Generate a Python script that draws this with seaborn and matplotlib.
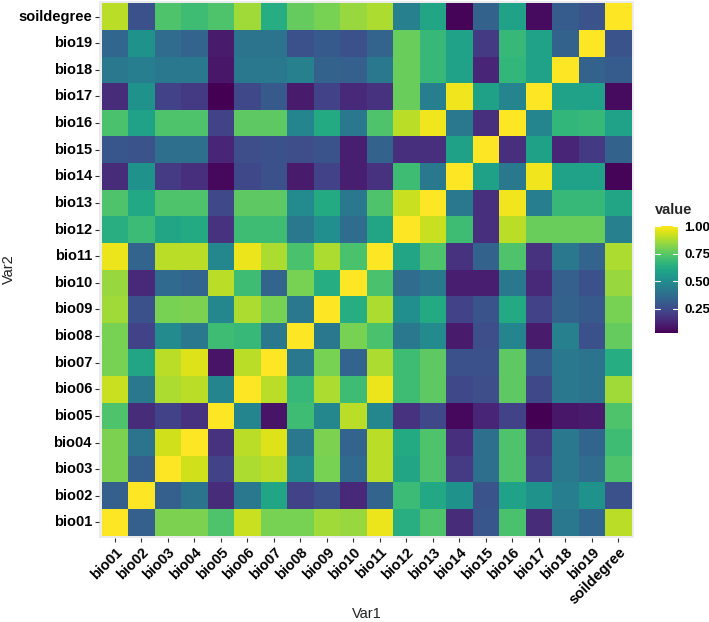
import numpy as np
import pandas as pd
import matplotlib
matplotlib.use('Agg')
import matplotlib.pyplot as plt
import seaborn as sns

labels = ['bio01', 'bio02', 'bio03', 'bio04', 'bio05', 'bio06', 'bio07', 'bio08', 'bio09', 'bio10',
          'bio11', 'bio12', 'bio13', 'bio14', 'bio15', 'bio16', 'bio17', 'bio18', 'bio19', 'soildegree']

# correlation values, one list per variable (same order as labels)
bio01 = [1.00, .32, .81, .81, .73, .92, .80, .80, .86, .85, .97, .64, .73, .15, .29, .72, .15, .42, .35, .90]
bio02 = [.32, 1.00, .32, .40, .15, .42, .60, .22, .27, .14, .34, .69, .61, .52, .28, .59, .52, .44, .52, .27]
bio03 = [.81, .32, 1.00, .93, .22, .88, .90, .49, .80, .36, .90, .60, .73, .20, .38, .73, .22, .42, .37, .73]
bio04 = [.81, .40, .93, 1.00, .17, .90, .95, .42, .81, .34, .90, .62, .73, .16, .38, .73, .19, .42, .34, .70]
bio05 = [.73, .15, .22, .17, 1.00, .47, .08, .70, .48, .90, .48, .17, .24, .05, .13, .22, .03, .09, .10, .73]
bio06 = [.92, .42, .88, .90, .47, 1.00, .90, .68, .88, .70, .97, .70, .76, .24, .26, .76, .24, .42, .40, .86]
bio07 = [.80, .60, .90, .95, .08, .90, 1.00, .42, .80, .34, .88, .70, .76, .27, .27, .76, .30, .42, .40, .63]
bio08 = [.80, .22, .49, .42, .70, .68, .42, 1.00, .42, .80, .72, .42, .49, .10, .26, .47, .10, .45, .27, .77]
bio09 = [.86, .27, .80, .81, .48, .88, .80, .42, 1.00, .63, .88, .51, .62, .22, .28, .62, .22, .33, .30, .80]
bio10 = [.85, .14, .36, .34, .90, .70, .34, .80, .63, 1.00, .72, .37, .42, .11, .11, .42, .14, .32, .27, .85]
bio11 = [.97, .34, .90, .90, .48, .97, .88, .72, .88, .72, 1.00, .60, .73, .17, .33, .73, .17, .42, .34, .88]
bio12 = [.64, .69, .60, .62, .17, .70, .70, .42, .51, .37, .60, 1.00, .92, .70, .16, .90, .78, .78, .78, .45]
bio13 = [.73, .61, .73, .73, .24, .76, .76, .49, .62, .42, .73, .92, 1.00, .42, .16, .98, .44, .68, .68, .60]
bio14 = [.15, .52, .20, .16, .05, .24, .27, .10, .22, .11, .17, .70, .42, 1.00, .58, .42, .98, .59, .59, .04]
bio15 = [.29, .28, .38, .38, .13, .26, .27, .26, .28, .11, .33, .16, .16, .58, 1.00, .16, .58, .13, .19, .33]
bio16 = [.72, .59, .73, .73, .22, .76, .76, .47, .62, .42, .73, .90, .98, .42, .16, 1.00, .47, .67, .68, .59]
bio17 = [.15, .52, .22, .19, .03, .24, .30, .10, .22, .14, .17, .78, .44, .98, .58, .47, 1.00, .59, .59, .06]
bio18 = [.42, .44, .42, .42, .09, .42, .42, .45, .33, .32, .42, .78, .68, .59, .13, .67, .59, 1.00, .33, .31]
bio19 = [.35, .52, .37, .34, .10, .40, .40, .27, .30, .27, .34, .78, .68, .59, .19, .68, .59, .33, 1.00, .28]
soildegree = [.90, .27, .73, .70, .73, .86, .63, .77, .80, .85, .88, .45, .60, .04, .33, .59, .06, .31, .28, 1.00]

cbar_ticks = [0.25, 0.50, 0.75, 1.00]
cbar_ticklabels = ['0.25', '0.50', '0.75', '1.00']

rows = [bio01, bio02, bio03, bio04, bio05, bio06, bio07, bio08, bio09, bio10,
        bio11, bio12, bio13, bio14, bio15, bio16, bio17, bio18, bio19, soildegree]
df = pd.DataFrame(rows, index=labels, columns=labels)

sns.set_style('white')
plt.rcParams['font.family'] = ['Liberation Sans', 'DejaVu Sans']

W, H = 709, 622
fig = plt.figure(figsize=(W / 100, H / 100), dpi=100)
ax = fig.add_axes([99 / W, 1 - 538.4 / H, (634.4 - 99) / W, 537.8 / H])
cax = fig.add_axes([655 / W, 1 - 333 / H, 22.5 / W, 106.7 / H])

# bio01 sits at the bottom, so reverse the row order for seaborn
sns.heatmap(df.iloc[::-1], cmap='viridis', ax=ax, cbar_ax=cax, linewidths=0,
            cbar_kws={'ticks': cbar_ticks})

ax.set_facecolor('#EBEBEB')
ax.set_xlim(-0.1, 20.1)
ax.set_ylim(20.1, -0.1)
for s in ax.spines.values():
    s.set_visible(False)

ax.set_xticks(np.arange(20) + 0.5)
ax.set_xticklabels(labels, rotation=45, ha='right', va='top', rotation_mode='anchor',
                   fontsize=10.5, fontweight='bold', color='black')
ax.set_yticks(np.arange(20) + 0.5)
ax.set_yticklabels(labels[::-1], rotation=0, fontsize=10.5, fontweight='bold', color='black')
ax.tick_params(axis='both', length=3, width=0.8, color='#333333', pad=2, bottom=True, left=True)
ax.set_xlabel('Var1', fontsize=10.5, color='#222222', labelpad=0)
ax.set_ylabel('Var2', fontsize=10.5, color='#222222', labelpad=2)

cax.set_yticklabels(cbar_ticklabels, fontsize=9.5, fontweight='bold', color='black')
cax.tick_params(axis='y', length=0, pad=5)
for t in cbar_ticks:
    cax.plot([0, 0.2], [t, t], color='white', lw=0.8, transform=cax.get_yaxis_transform())
    cax.plot([0.8, 1.0], [t, t], color='white', lw=0.8, transform=cax.get_yaxis_transform())
for s in cax.spines.values():
    s.set_visible(False)
fig.text(655 / W, 1 - 217 / H, 'value', fontsize=10.5, fontweight='bold', ha='left', va='bottom')

fig.savefig('out.png', dpi=100)
